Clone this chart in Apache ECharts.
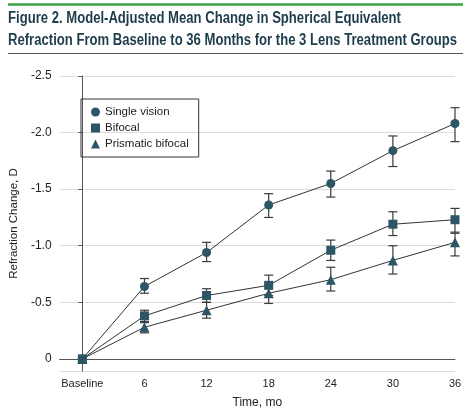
<!DOCTYPE html>
<html>
<head>
<meta charset="utf-8">
<script src="https://cdn.jsdelivr.net/npm/echarts@6/dist/echarts.min.js"></script>
<style>
html,body{margin:0;padding:0;background:#fff;}
#chart{width:470px;height:414px;}
</style>
</head>
<body>
<div id="chart"></div>
<script>
// ---- data ----
const titleLines = ['Figure 2. Model-Adjusted Mean Change in Spherical Equivalent',
                    'Refraction From Baseline to 36 Months for the 3 Lens Treatment Groups'];
const months = [0, 6, 12, 18, 24, 30, 36];
const xTickLabels = ['Baseline', '6', '12', '18', '24', '30', '36'];
const seriesNames = ['Single vision', 'Bifocal', 'Prismatic bifocal'];

const singleVision      = [0, -0.64, -0.94, -1.36, -1.55, -1.84, -2.08];
const singleVisionLow   = [0, -0.58, -0.86, -1.25, -1.43, -1.70, -1.92];
const singleVisionHigh  = [0, -0.71, -1.03, -1.46, -1.66, -1.97, -2.22];

const bifocal           = [0, -0.38, -0.56, -0.65, -0.96, -1.19, -1.23];
const bifocalLow        = [0, -0.32, -0.50, -0.56, -0.87, -1.09, -1.12];
const bifocalHigh       = [0, -0.43, -0.62, -0.74, -1.05, -1.30, -1.33];

const prismatic         = [0, -0.28, -0.43, -0.58, -0.70, -0.87, -1.03];
const prismaticLow      = [0, -0.23, -0.36, -0.49, -0.60, -0.75, -0.91];
const prismaticHigh     = [0, -0.33, -0.50, -0.66, -0.81, -1.00, -1.11];

// ---- build ----
const markerColor = '#2c5566';
const lineColor = '#333';
const baseFont = '"Liberation Sans", Arial, sans-serif';
const titleFontSize = 16;
const titleFont = 'bold ' + titleFontSize + 'px "Liberation Sans", Arial, sans-serif';

function measure(text, font) {
  const c = document.createElement('canvas').getContext('2d');
  c.font = font;
  return c.measureText(text).width;
}
// compress title horizontally to the reference width (narrow face)
const titleTargetWidth = 449;
const titleScale = titleTargetWidth / measure(titleLines[1], titleFont);

function pts(vals) { return months.map((m, i) => [m, vals[i]]); }
function errData(lo, hi) {
  const out = [];
  months.forEach((m, i) => { if (m !== 0) out.push([m, lo[i], hi[i]]); });
  return out;
}
function errSeries(lo, hi) {
  return {
    type: 'custom',
    silent: true,
    z: 1,
    data: errData(lo, hi),
    renderItem: function (params, api) {
      const x = api.value(0);
      const p1 = api.coord([x, api.value(1)]);
      const p2 = api.coord([x, api.value(2)]);
      const w = 4.5;
      const st = { stroke: '#3a3a3a', lineWidth: 1.2 };
      return {
        type: 'group',
        children: [
          { type: 'line', shape: { x1: p1[0], y1: p1[1], x2: p2[0], y2: p2[1] }, style: st },
          { type: 'line', shape: { x1: p1[0] - w, y1: p1[1], x2: p1[0] + w, y2: p1[1] }, style: st },
          { type: 'line', shape: { x1: p2[0] - w, y1: p2[1], x2: p2[0] + w, y2: p2[1] }, style: st }
        ]
      };
    }
  };
}
function lineSeries(name, vals, symbol, size, z) {
  return {
    name: name,
    type: 'line',
    data: pts(vals),
    symbol: symbol,
    symbolSize: size,
    z: z,
    itemStyle: { color: markerColor },
    lineStyle: { color: lineColor, width: 1 },
    emphasis: { disabled: true }
  };
}

const chart = echarts.init(document.getElementById('chart'), null, { renderer: 'canvas' });
chart.setOption({
  animation: false,
  backgroundColor: '#fff',
  graphic: [
    { type: 'line', shape: { x1: 8, y1: 4.5, x2: 463, y2: 4.5 }, style: { stroke: '#3da047', lineWidth: 2.5 } },
    { type: 'line', shape: { x1: 8, y1: 53.5, x2: 463, y2: 53.5 }, style: { stroke: '#555', lineWidth: 1.2 } },
    { type: 'text', x: 8, y: 11, scaleX: titleScale, scaleY: 1,
      style: { text: titleLines[0], font: titleFont, fill: '#1d3c4c', verticalAlign: 'top', textVerticalAlign: 'top' } },
    { type: 'text', x: 8, y: 32.5, scaleX: titleScale, scaleY: 1,
      style: { text: titleLines[1], font: titleFont, fill: '#1d3c4c', verticalAlign: 'top', textVerticalAlign: 'top' } }
  ],
  legend: {
    data: [
      { name: seriesNames[0], icon: 'circle' },
      { name: seriesNames[1], icon: 'rect' },
      { name: seriesNames[2], icon: 'triangle' }
    ],
    orient: 'vertical',
    left: 81,
    top: 99,
    padding: [7, 10, 7, 10],
    itemGap: 4,
    itemWidth: 9,
    itemHeight: 9,
    borderColor: '#333',
    borderWidth: 1,
    selectedMode: false,
    textStyle: { fontFamily: baseFont, fontSize: 11.5, color: '#222' }
  },
  grid: { left: 55, right: 15, top: 76, bottom: 43 },
  xAxis: {
    type: 'value',
    min: -2.2,
    max: 36,
    name: 'Time, mo',
    nameLocation: 'middle',
    nameGap: 26,
    nameTextStyle: { fontFamily: baseFont, fontSize: 12, color: '#222' },
    axisLine: { show: true, lineStyle: { color: '#555', width: 1 } },
    axisTick: { show: false },
    splitLine: { show: false },
    axisLabel: {
      customValues: months,
      formatter: function (v) { const i = months.indexOf(v); return i >= 0 ? xTickLabels[i] : ''; },
      fontFamily: baseFont,
      fontSize: 11,
      color: '#222',
      margin: 7
    }
  },
  yAxis: {
    type: 'value',
    inverse: true,
    min: -2.5,
    max: 0.107,
    interval: 0.5,
    name: 'Refraction Change, D',
    nameLocation: 'middle',
    nameGap: 31,
    nameTextStyle: { fontFamily: baseFont, fontSize: 11.5, color: '#222' },
    axisLine: { show: true, lineStyle: { color: '#555', width: 1 } },
    axisTick: { show: true, length: 4, lineStyle: { color: '#555' } },
    splitLine: { show: true, lineStyle: { color: '#dcdcdc', width: 1 } },
    axisLabel: {
      showMaxLabel: false,
      formatter: function (v) {
        if (Math.abs(v) < 1e-9) return '0';
        if (v > 0) return '';
        return v.toFixed(1);
      },
      fontFamily: baseFont,
      fontSize: 12,
      color: '#222',
      margin: 8
    }
  },
  series: [
    errSeries(singleVisionLow, singleVisionHigh),
    errSeries(bifocalLow, bifocalHigh),
    errSeries(prismaticLow, prismaticHigh),
    lineSeries(seriesNames[0], singleVision, 'circle', 9, 3),
    lineSeries(seriesNames[2], prismatic, 'triangle', 10, 3),
    lineSeries(seriesNames[1], bifocal, 'rect', 9, 4)
  ]
});
</script>
</body>
</html>
